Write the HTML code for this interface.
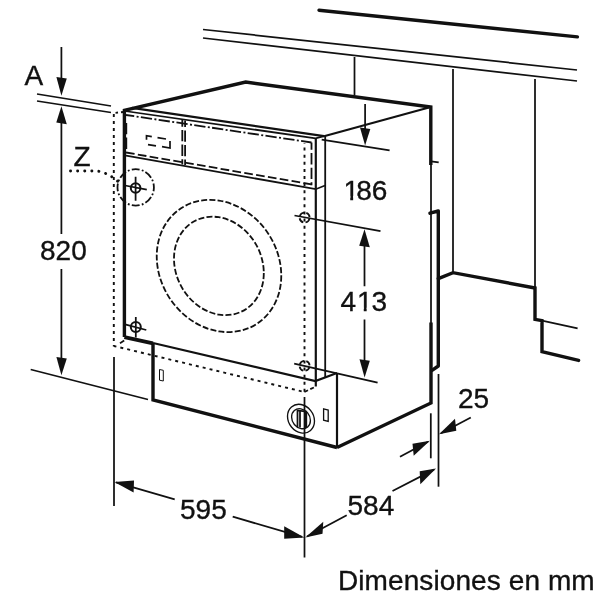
<!DOCTYPE html>
<html><head><meta charset="utf-8">
<style>
html,body{margin:0;padding:0;background:#fff;}
body{width:600px;height:600px;overflow:hidden;}
svg{display:block;will-change:transform;filter:grayscale(1);}
text{font-family:"Liberation Sans",sans-serif;fill:#111;stroke:#111;stroke-width:0.35;}
.t{stroke:#111;stroke-width:1.75;fill:none;}
.m{stroke:#111;stroke-width:2.2;fill:none;}
.k{stroke:#111;stroke-width:3.4;fill:none;stroke-linejoin:miter;}
.d{stroke:#111;stroke-width:1.8;fill:none;}
.a{fill:#111;stroke:none;}
</style></head><body>
<svg width="600" height="600" viewBox="0 0 600 600">
<rect width="600" height="600" fill="#fff"/>

<!-- wall / countertop -->
<g id="wall">
<path class="k" stroke-linecap="round" d="M319 10.2 L577.4 36.9"/>
<path class="t" d="M203 29.5 L577 70"/>
<path class="t" d="M203 38 L577 81"/>
<path class="t" d="M37 94 L111 106"/>
<path class="t" d="M37 101 L111 112.5"/>
<path class="t" d="M354.5 57 V95"/>
<path class="t" d="M453 69 V272.5"/>
<path class="t" d="M535 79 V287.5"/>
</g>

<!-- cabinet right -->
<g id="cab">
<path class="k" d="M438.3 278.6 L453 272.7 L535 288 V319.3 L542 320.7 V351.7 L578.6 360.4" stroke-linecap="round"/>
<path class="t" d="M542 320.7 L577.6 328.3"/>
</g>

<!-- machine -->
<g id="machine">
<path class="k" d="M124.4 337 V110.3 L245.7 82.1 L430.8 107 V165"/>
<path style="stroke-width:2.3" class="k" d="M132 107.9 L324 136.2"/>
<path class="m" d="M324 136.2 L430.8 107"/>
<path class="t" d="M124.5 111 L315.6 138.3 L324 136.2"/>
<path class="m" d="M315.8 138.5 V386.5"/>
<path style="stroke-width:1.8" class="t" d="M325.2 136.2 V377.5"/>
<path class="t" d="M124.7 155.3 L315.8 189.2 L325 185.5"/>
<!-- right side -->
<path class="t" d="M431 164 V323"/>
<path class="t" d="M431 161.3 L438.7 162.4"/>
<path class="k" stroke-linejoin="round" stroke-linecap="round" style="stroke-linejoin:round" d="M430 213.2 L438.3 211 V366 L432 370.4"/>
<path class="k" d="M431 322.5 V403 L337 447.5"/>
<!-- plinth -->
<path class="k" style="stroke-width:3.8" d="M124.4 337.2 L153 343.3"/>
<path class="k" d="M153 343 V400 L337 447.5"/>
<path class="m" d="M153 343 L315.4 381 L337 373"/>
<path class="m" d="M337 373 V447.5"/>
<!-- small rects -->
<path style="stroke-width:1" class="t" d="M159.5 369.5 L163.3 370.3 V381 L159.5 380.2 Z"/>
<path class="t" style="stroke-width:1.3" d="M323.6 408.8 L328.2 410 V421.4 L323.6 420.2 Z"/>
</g>

<!-- dashed elements -->
<g id="dash">
<path class="d" stroke-dasharray="11.3 2.4 2 2.3" stroke-dashoffset="3" d="M126 115 L311.5 142.5"/>
<path class="d" stroke-dasharray="11.3 3.3" d="M126.3 123 V153"/>
<path class="d" stroke-dasharray="11.3 3.3" stroke-dashoffset="4" d="M311.5 142.5 V185.2"/>
<path class="d" stroke-dasharray="8.7 3.3" d="M126 152.5 L311.5 184.4"/>
<path class="d" stroke-dasharray="11.3 3.3" stroke-dashoffset="4.6" d="M182.3 120 V164.5"/>
<path class="d" stroke-dasharray="11.3 3.3" stroke-dashoffset="4.6" d="M185.1 120.4 V165"/>
<path style="stroke-width:1.7" class="d" d="M146.5 139.8 V135.7 L151.8 136.6 M157.5 137.6 L166 139 M170 141 V148 L162 146.7 M148 144.6 L156 145.8"/>
<!-- dotted -->
<path class="d" style="stroke-width:1.9" stroke-dasharray="2.5 3" d="M123.5 112 L113.8 113"/>
<path class="d" style="stroke-width:1.9" stroke-dasharray="3 4" stroke-dashoffset="-1" d="M113.8 113 V346.5"/>
<path class="d" style="stroke-width:1.9" stroke-dasharray="3 4.06" stroke-dashoffset="0.56" d="M114 346 L304.4 392"/>
<path class="d" d="M124.2 340.6 L120 343.2"/>
<path class="d" style="stroke-width:1.9" stroke-dasharray="3 4.095" stroke-dashoffset="2.5" d="M304.5 143 V392"/>
<path class="d" stroke-dasharray="4 2.5" d="M304.4 392 L315.8 386.5"/>
<!-- drum -->
<g transform="matrix(0.952 0.148 0 1 219 266)"><circle r="65.4" class="d" stroke-dasharray="6 2.2" vector-effect="non-scaling-stroke"/></g>
<g transform="matrix(0.922 0.148 0 1 218.9 265.9)"><circle r="48.7" class="d" stroke-dasharray="6 2.2" vector-effect="non-scaling-stroke"/></g>
<!-- Z circle -->
<circle cx="135.7" cy="187.4" r="18.2" class="d" stroke-dasharray="8 2.2 1.8 2.2" stroke-dashoffset="4"/>
<path style="stroke-width:2.9" class="d" stroke-linecap="round" stroke-dasharray="0.1 7" d="M70.5 171 H97 Q108 172.5 118.5 182"/>
</g>

<!-- fixing symbols -->
<g id="sym">
<circle cx="135.6" cy="188" r="4.8" class="t" style="stroke-width:2"/>
<path class="t" d="M135.6 176.8 V200.8 M125 185.5 L146.8 189.7"/>
<circle cx="135.8" cy="327" r="5" class="t" style="stroke-width:2"/>
<path class="t" d="M135.8 317 V337.5 M125 324.3 L146.3 330"/>
<circle cx="304.6" cy="217.5" r="5" class="d" style="stroke-width:1.8" stroke-dasharray="5.5 2.35" stroke-dashoffset="-1.17"/>
<circle cx="304.6" cy="365.8" r="5" class="d" style="stroke-width:1.8" stroke-dasharray="5.5 2.35" stroke-dashoffset="-1.17"/>
</g>

<!-- knob -->
<g id="knob">
<g transform="matrix(0.95 0.17 0 1 301 418.7)"><circle r="14.2" class="t" style="stroke-width:1.35" vector-effect="non-scaling-stroke"/><circle r="9.9" class="t" style="stroke-width:1.35" vector-effect="non-scaling-stroke"/></g>
<path class="t" d="M297.5 427 V410.4 L306.3 411.6 V428 M300 410.8 V427.5"/>
<path class="t" style="stroke-width:2.2" d="M305.6 411.6 V428"/>
</g>

<!-- extension lines -->
<g id="ext">
<path class="t" d="M30.7 369.5 L148 399.5"/>
<path class="t" d="M114 357 V506"/>
<path class="t" d="M304.5 397 V557.5"/>
<path class="t" d="M321.7 139.6 L389.6 150.4"/>
<path class="t" d="M294.5 215.5 L380.5 231.2"/>
<path class="t" d="M294.2 363.7 L377.6 382.6"/>
<path class="t" d="M438.5 374 V486.7"/>
<path class="t" d="M430.8 413.3 V458.3"/>
</g>

<!-- dimension arrows -->
<g id="dim">
<path class="t" d="M61.4 47 V80"/>
<path class="a" d="M61.4 95.8 L56.4 76.9 L66.8 78.4 Z"/>
<path class="a" d="M61.4 106.2 L56.3 122.5 L66.8 124.2 Z"/>
<path class="t" d="M61.4 122 V234 M61.4 269 V359"/>
<path class="a" d="M61.4 375.3 L56.4 357 L66.8 358.5 Z"/>

<path class="t" d="M365.1 104 V130"/>
<path class="a" d="M365.1 145.6 L360 127.4 L370.3 129 Z"/>

<path class="a" d="M364.5 229.3 L359.2 245.7 L369.8 247.3 Z"/>
<path class="t" d="M364.5 245 V286.3 M364.5 319.5 V362"/>
<path class="a" d="M364.6 377.6 L359.5 359.3 L369.8 360.8 Z"/>

<!-- 595 -->
<path class="t" d="M116 482.4 L174.7 499.3 M232.7 516.7 L302 536.9"/>
<path class="a" d="M114.4 482 L134 480.4 L133.6 492.4 Z"/>
<path class="a" d="M304.4 537.6 L284.2 526.3 L284.2 538.7 Z"/>
<!-- 584 -->
<path class="t" d="M307 536.6 L346.7 515.3 M392.5 491 L434 469.6"/>
<path class="a" d="M305.3 537.6 L323.3 521.7 L322.5 533.7 Z"/>
<path class="a" d="M436 468.6 L419.7 471.3 L420.3 484.2 Z"/>
<!-- 25 -->
<path class="t" d="M441 433.2 L470.8 417.5"/>
<path class="a" d="M439 434.3 L455 418.7 L456.3 430.8 Z"/>
<path class="t" d="M428 441.8 L400 456.7"/>
<path class="a" d="M429.9 440.7 L412.5 443.7 L413.7 455.8 Z"/>
</g>

<!-- text -->
<g id="txt" font-size="28">
<text x="24.5" y="85">A</text>
<text x="73.6" y="166.2">Z</text>
<text x="40" y="260.3">820</text>
<text y="199.5"><tspan x="343.5">1</tspan><tspan x="356.3">86</tspan></text>
<text y="311.3"><tspan x="340.5">4</tspan><tspan x="357">1</tspan><tspan x="371.6">3</tspan></text>
<text x="458" y="408">25</text>
<text x="180" y="519">595</text>
<text x="347.5" y="515">584</text>
<text x="337.9" y="589.6" font-size="28" letter-spacing="0.1">Dimensiones en mm</text>
</g>
<g id="mask" fill="#fff">
<rect x="344.3" y="195.9" width="5.95" height="5.3"/><rect x="353.15" y="195.9" width="5" height="5.3"/>
<rect x="357.8" y="307.7" width="5.95" height="5.3"/><rect x="366.65" y="307.7" width="5.4" height="5.3"/>
</g>
</svg>
</body></html>
